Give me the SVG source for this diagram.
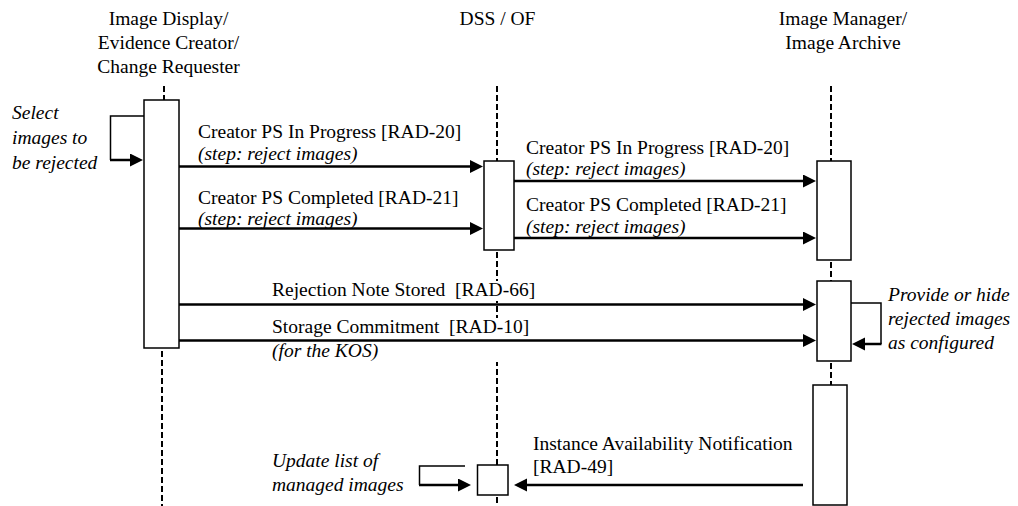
<svg xmlns="http://www.w3.org/2000/svg" width="1018" height="506" viewBox="0 0 1018 506" font-family="'Liberation Serif', 'Times New Roman', Times, serif">
<style>
  text { font-family: 'Liberation Serif', 'Times New Roman', Times, serif; font-size: 19.5px; fill: #000; }
  .it { font-style: italic; }
  .mid { text-anchor: middle; }
  .life { stroke: #000; stroke-width: 2; stroke-dasharray: 6 3; fill: none; }
  .box { fill: #fff; stroke: #000; stroke-width: 1.5; }
  .msg { stroke: #000; stroke-width: 2.5; fill: none; marker-end: url(#ah); }
  .thin { stroke: #000; stroke-width: 1.5; fill: none; }
  .bg { fill: #fff; stroke: none; }
</style>
<defs>
  <marker id="ah" markerUnits="userSpaceOnUse" markerWidth="14" markerHeight="14" refX="9" refY="6.5" orient="auto">
    <path d="M0,0 L13,6.5 L0,13 Z" fill="#000"/>
  </marker>
</defs>
<rect width="1018" height="506" fill="#fff"/>

<g id="lifelines">
  <line class="life" x1="164" y1="86" x2="164" y2="100"/>
  <line class="life" x1="162" y1="351" x2="162" y2="506"/>
  <line class="life" x1="497" y1="86" x2="497" y2="161"/>
  <line class="life" x1="497" y1="252" x2="497" y2="465"/>
  <line class="life" x1="497" y1="497" x2="497" y2="506"/>
  <line class="life" x1="831" y1="86" x2="831" y2="161"/>
  <line class="life" x1="831" y1="262" x2="831" y2="281"/>
  <line class="life" x1="831" y1="363" x2="831" y2="385"/>
</g>

<g id="actor-image-display">
  <text class="mid" x="168.5" y="25">Image Display/</text>
  <text class="mid" x="168.5" y="49">Evidence Creator/</text>
  <text class="mid" x="168.5" y="73">Change Requester</text>
  <rect class="box" x="144" y="100" width="35" height="248"/>
</g>

<g id="actor-dss">
  <text class="mid" x="497.5" y="25">DSS / OF</text>
  <rect class="box" x="484" y="161" width="30" height="89"/>
  <rect class="box" x="477.5" y="465" width="30.5" height="30"/>
</g>

<g id="actor-image-manager">
  <text class="mid" x="843" y="25">Image Manager/</text>
  <text class="mid" x="843" y="49">Image Archive</text>
  <rect class="box" x="817" y="161" width="34" height="99"/>
  <rect class="box" x="817" y="281" width="34" height="80"/>
  <rect class="box" x="813" y="385" width="34" height="120"/>
</g>

<g id="connectors">
  <polyline class="thin" points="144,116 110.5,116 110.5,160"/>
  <line class="msg" x1="110" y1="160" x2="139" y2="160"/>
  <line class="msg" x1="179" y1="166.5" x2="479" y2="166.5"/>
  <line class="msg" x1="179" y1="228.5" x2="479" y2="228.5"/>
  <line class="msg" x1="514" y1="181" x2="812" y2="181"/>
  <line class="msg" x1="514" y1="238" x2="812" y2="238"/>
  <line class="msg" x1="179" y1="304.5" x2="812" y2="304.5"/>
  <polyline class="thin" points="851,303 881,303 881,344"/>
  <line class="msg" x1="881.5" y1="344" x2="856" y2="344"/>
  <line class="msg" x1="803" y1="485" x2="518" y2="485"/>
  <polyline class="thin" points="465,466 419.5,466 419.5,485"/>
  <line class="msg" x1="419" y1="485" x2="467" y2="485"/>
</g>

<g id="labels">
  <text class="it" x="12" y="119">Select</text>
  <text class="it" x="12" y="144">images to</text>
  <text class="it" x="12" y="169">be rejected</text>

  <text x="198" y="138">Creator PS In Progress [RAD-20]</text>
  <text class="it" x="198" y="160">(step: reject images)</text>
  <text x="198" y="204">Creator PS Completed [RAD-21]</text>
  <text class="it" x="198" y="225">(step: reject images)</text>

  <text x="526" y="154">Creator PS In Progress [RAD-20]</text>
  <text class="it" x="526" y="175">(step: reject images)</text>
  <text x="526" y="211">Creator PS Completed [RAD-21]</text>
  <text class="it" x="526" y="233">(step: reject images)</text>

  <rect class="bg" x="270" y="281" width="268" height="20"/>
  <text x="272" y="296" xml:space="preserve">Rejection Note Stored  [RAD-66]</text>
  <rect class="bg" x="270" y="318" width="268" height="44"/>
  <text x="272" y="333" xml:space="preserve">Storage Commitment  [RAD-10]</text>
  <text class="it" x="272" y="357">(for the KOS)</text>

  <text class="it" x="888" y="301">Provide or hide</text>
  <text class="it" x="888" y="325">rejected images</text>
  <text class="it" x="888" y="349">as configured</text>

  <text x="533" y="450">Instance Availability Notification</text>
  <text x="533" y="473">[RAD-49]</text>

  <text class="it" x="272" y="467">Update list of</text>
  <text class="it" x="272" y="491">managed images</text>
</g>
<g id="connectors-top">
  <line class="msg" x1="179" y1="340.5" x2="812" y2="340.5"/>
</g>
</svg>
